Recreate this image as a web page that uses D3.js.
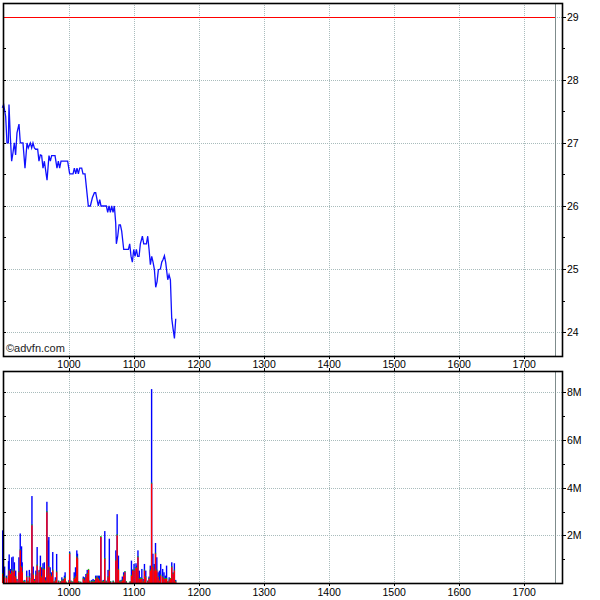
<!DOCTYPE html>
<html><head><meta charset="utf-8">
<script src="https://cdn.jsdelivr.net/npm/d3@7"></script>
<style>body{margin:0;background:#fff}svg{display:block}</style>
</head><body>
<script>
// ---- data ----
const priceIdx = [897.4,899.5,902.6,904.6,906.7,907.7,909.7,911.8,913.8,915.9,917.9,920.0,923.1,925.1,929.2,932.3,935.4,937.4,940.5,942.6,944.6,946.7,948.7,951.8,953.8,955.9,957.9,960.0,962.1,966.2,969.2,971.3,973.3,978.5,981.5,983.6,985.6,987.7,997.9,1001.0,1006.2,1008.2,1010.3,1012.3,1014.4,1016.4,1019.5,1021.5,1024.6,1029.7,1032.8,1035.9,1039.0,1041.0,1043.1,1045.1,1047.2,1049.2,1057.4,1059.5,1061.5,1063.6,1065.6,1067.7,1069.7,1071.8,1072.8,1074.9,1076.9,1079.0,1081.0,1084.1,1091.3,1093.3,1095.4,1097.4,1099.5,1101.5,1103.6,1105.6,1107.7,1109.7,1112.8,1114.9,1119.0,1121.0,1123.1,1125.1,1127.2,1129.2,1131.3,1133.3,1135.4,1137.4,1140.5,1142.6,1144.6,1146.7,1148.7,1151.8,1153.8,1155.9,1157.9,1160.0,1162.1,1164.1];
const priceVal = [27.56,27.61,27.42,27.00,27.00,27.61,27.11,26.71,26.84,27.00,26.81,27.16,27.30,27.00,27.00,26.60,27.00,26.92,27.00,26.92,27.00,26.92,26.90,26.90,26.71,26.81,26.80,26.60,26.71,26.41,26.80,26.71,26.80,26.80,26.60,26.71,26.60,26.71,26.71,26.51,26.51,26.60,26.51,26.60,26.51,26.60,26.60,26.51,26.51,26.00,26.00,26.13,26.21,26.21,26.10,26.00,26.10,26.00,26.00,25.90,26.00,25.90,26.00,25.90,26.00,25.73,25.40,25.52,25.70,25.70,25.60,25.31,25.31,25.40,25.20,25.11,25.31,25.20,25.31,25.20,25.20,25.40,25.52,25.40,25.40,25.52,25.31,25.07,25.20,25.11,24.99,24.71,24.80,24.99,25.00,25.11,25.15,25.21,25.10,24.83,24.91,24.83,24.22,24.05,23.90,24.21];
const volIdx = [898,901,904,907,908,910,912,914,916,918,920,923,925,927,928,930,932,935,937,939,942,943,945,947,949,951,954,956,958,960,962,964,966,968,969,971,973,975,977,979,981,984,987,989,991,993,994,996,1000,1001,1003,1006,1008,1010,1012,1013,1015,1018,1022,1024,1026,1028,1030,1032,1035,1037,1039,1041,1043,1045,1047,1049,1051,1053,1055,1057,1060,1062,1064,1068,1071,1072,1074,1076,1078,1080,1082,1084,1086,1088,1094,1096,1098,1100,1103,1104,1106,1108,1110,1112,1114,1116,1118,1121,1123,1125,1127,1129,1131,1133,1135,1137,1139,1141,1144,1146,1148,1150,1152,1154,1156,1158,1160,1162,1164];
const volTotal = [2.21,0.69,0.31,0.92,1.2,0.59,1.08,1.11,0.87,0.52,0.17,1.08,2.08,1.54,0.87,0.1,0.13,0.52,0.1,0.55,0.41,3.65,0.69,0.17,0.52,1.51,0.55,1.15,0.66,0.83,0.87,0.24,3.41,1.79,1.93,0.66,0.45,1.3,0.07,0.24,1.22,0.1,0.07,0.24,0.17,0.31,0.45,0.03,0.13,1.32,0.1,0.06,0.45,0.66,1.37,1.23,0.07,0.04,0.27,0.24,0.38,0.55,0.55,0.1,0.13,0.17,0.13,0.31,0.31,0.31,0.31,1.93,0.1,0.13,2.18,0.1,0.55,1.86,0.07,0.1,0.03,1.37,2.89,1.15,0.1,0.13,0.27,0.45,0.49,0.07,0.06,0.94,0.56,0.8,0.83,0.73,1.37,0.52,0.24,0.59,0.17,0.8,0.52,0.1,0.27,0.73,8.14,1.23,0.8,1.68,1.08,0.45,0.52,0.8,0.59,0.45,0.31,0.73,0.07,0.24,0.17,0.87,0.45,0.83,0.13];
const volRed = [0.38,0.24,0.2,0.31,0.52,0.38,0.52,0.45,0.52,0.24,0.1,0.45,1.37,0.66,0.45,0.05,0.05,0.24,0.05,0.24,0.17,2.42,0.35,0.08,0.31,0.73,0.45,0.66,0.24,0.59,0.55,0.1,2.97,0.31,0.66,0.38,0.27,0.52,0.03,0.1,0.45,0.05,0.03,0.1,0.1,0.17,0.2,0.02,0.05,1.22,0.05,0.03,0.17,0.24,1.08,1.01,0.03,0.02,0.17,0.1,0.24,0.38,0.55,0.05,0.05,0.05,0.05,0.17,0.24,0.17,0.1,1.93,0.05,0.05,1.01,0.05,0.24,0.52,0.03,0.05,0.02,0.94,2.0,0.55,0.05,0.05,0.1,0.31,0.45,0.03,0.03,0.3,0.52,0.52,0.63,0.59,1.08,0.17,0.17,0.17,0.05,0.52,0.24,0.05,0.17,0.52,4.17,0.66,0.52,1.23,0.52,0.24,0.1,0.31,0.24,0.17,0.17,0.17,0.03,0.1,0.17,0.66,0.38,0.52,0.05];
const xTicks = [1000,1100,1200,1300,1400,1500,1600,1700];
const priceTicks = [24,25,26,27,28,29];
const volTicks = [2,4,6,8];
const volTickLabels = ["2M","4M","6M","8M"];
const refPrice = 29;
const nowIdx = 1747;

// ---- layout ----
const W = 600, H = 600;
const L = 3, R = 562;
const pTop = 3, pBot = 356, vTop = 371, vBot = 583;
const svg = d3.select("body").append("svg").attr("width", W).attr("height", H);

const x = d3.scaleLinear().domain([898.5, 1758]).range([L, R]);
const yP = d3.scaleLinear().domain([23.62, 29.22]).range([pBot, pTop]);
const yV = d3.scaleLinear().domain([0, 8.9]).range([vBot, vTop]);

const gridCol = "#a9bcbc";
const font = "'Liberation Sans Narrow','Arial Narrow','Liberation Sans',Arial,sans-serif";
const px = v => Math.round(v) + 0.5;

function panel(top, bot, yScale, ticks, labels, minors) {
  const g = svg.append("g").attr("shape-rendering", "crispEdges");
  g.selectAll(".vg").data(xTicks).join("line")
    .attr("x1", d => px(x(d))).attr("x2", d => px(x(d)))
    .attr("y1", top).attr("y2", bot)
    .attr("stroke", gridCol).attr("stroke-dasharray", "1,1");
  g.selectAll(".hg").data(ticks).join("line")
    .attr("x1", L).attr("x2", R + 3)
    .attr("y1", d => px(yScale(d))).attr("y2", d => px(yScale(d)))
    .attr("stroke", gridCol).attr("stroke-dasharray", "1,1");
  g.append("line").attr("x1", px(x(nowIdx))).attr("x2", px(x(nowIdx)))
    .attr("y1", top).attr("y2", bot).attr("stroke", "#7f8c8c").attr("stroke-width", 1);
  g.selectAll(".rt").data(ticks).join("line")
    .attr("x1", R).attr("x2", R + 4)
    .attr("y1", d => px(yScale(d))).attr("y2", d => px(yScale(d)))
    .attr("stroke", "#000");
  g.selectAll(".rm").data(minors).join("line")
    .attr("x1", R).attr("x2", R + 3)
    .attr("y1", d => px(yScale(d))).attr("y2", d => px(yScale(d)))
    .attr("stroke", "#000");
  g.selectAll(".lt").data(ticks.concat(minors)).join("line")
    .attr("x1", L).attr("x2", L + 3)
    .attr("y1", d => px(yScale(d))).attr("y2", d => px(yScale(d)))
    .attr("stroke", "#000");
  svg.append("g").selectAll("text").data(ticks).join("text")
    .attr("x", R + 5).attr("y", d => yScale(d) + 4)
    .attr("font-family", font).attr("font-size", 10.5).attr("fill", "#000")
    .text((d, i) => labels[i]);
  return g;
}

const pMinor = [23.5, 24.5, 25.5, 26.5, 27.5, 28.5].filter(d => yP(d) > pTop && yP(d) < pBot);
const pg = panel(pTop, pBot, yP, priceTicks, priceTicks.map(String), pMinor);
pg.append("line").attr("x1", L).attr("x2", Math.round(x(nowIdx)))
  .attr("y1", px(yP(refPrice))).attr("y2", px(yP(refPrice)))
  .attr("stroke", "#ff0000").attr("stroke-width", 1);

const vMinor = [1, 3, 5, 7];
panel(vTop, vBot, yV, volTicks, volTickLabels, vMinor);

// price line
const pts = priceIdx.map((d, i) => [d, priceVal[i]]);
svg.append("path").datum(pts)
  .attr("d", d3.line().x(d => x(d[0])).y(d => yP(d[1])))
  .attr("fill", "none").attr("stroke", "#1010ff").attr("stroke-width", 1.3);

// volume bars
const bw = 1.4;
const vols = volIdx.map((d, i) => ({i: d, t: volTotal[i], r: volRed[i]}));
svg.append("g").selectAll("rect").data(vols).join("rect")
  .attr("x", d => x(d.i) - bw / 2).attr("width", bw)
  .attr("y", d => yV(d.t)).attr("height", d => yV(0) - yV(d.t))
  .attr("fill", "#0000ff");
svg.append("g").selectAll("rect").data(vols).join("rect")
  .attr("x", d => x(d.i) - bw / 2).attr("width", bw)
  .attr("y", d => yV(d.r) - 1).attr("height", 1)
  .attr("fill", "#00c000");
svg.append("g").selectAll("rect").data(vols).join("rect")
  .attr("x", d => x(d.i) - bw / 2).attr("width", bw)
  .attr("y", d => yV(d.r)).attr("height", d => yV(0) - yV(d.r))
  .attr("fill", "#ff0000");

// frames
[[pTop, pBot], [vTop, vBot]].forEach(([t, b]) => {
  svg.append("rect").attr("x", L + 0.5).attr("y", t + 0.5)
    .attr("width", R - L).attr("height", b - t)
    .attr("fill", "none").attr("stroke", "#000").attr("stroke-width", 1.6);
  svg.append("g").selectAll("line").data(xTicks).join("line")
    .attr("x1", d => px(x(d))).attr("x2", d => px(x(d)))
    .attr("y1", b).attr("y2", b + 3).attr("stroke", "#000");
});
svg.append("g").selectAll("line").data(xTicks).join("line")
  .attr("x1", d => px(x(d))).attr("x2", d => px(x(d)))
  .attr("y1", vTop - 3).attr("y2", vTop).attr("stroke", "#000");

// x labels
[pBot + 12, vBot + 13].forEach(yy => {
  svg.append("g").selectAll("text").data(xTicks).join("text")
    .attr("x", d => x(d)).attr("y", yy)
    .attr("text-anchor", "middle").attr("font-family", font).attr("font-size", 10.5)
    .text(d => d);
});

// watermark
svg.append("text").attr("x", 6).attr("y", 352)
  .attr("font-family", "'Liberation Sans',Arial,sans-serif").attr("font-size", 11).attr("fill", "#222")
  .text("©advfn.com");
</script>
</body></html>
